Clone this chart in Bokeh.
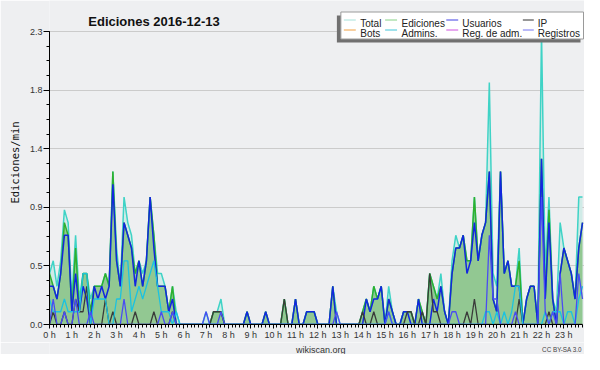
import math
from bokeh.plotting import figure
from bokeh.layouts import column
from bokeh.models import Range1d, FixedTicker, ColumnDataSource, PrintfTickFormatter, Title
from bokeh.core.properties import value
from bokeh.embed import file_html
from bokeh.resources import INLINE

# ---- data: 10-minute bins (144 per day), edits per minute ----
hour_labels = [f"{h} h" for h in range(24)]
series_names = ["Total", "Ediciones", "Usuarios", "IP", "Bots", "Admins.", "Reg. de adm.", "Registros"]

total = [0.4,0.5,0.3,0.5,0.9,0.8,0.2,0.7,0.2,0.4,0.4,0.2,
         0.3,0.3,0.3,0.4,0.3,1.2,0.6,0.3,1.0,0.8,0.7,0.4,
         0.5,0.4,0.5,1.0,0.7,0.4,0.4,0.3,0.1,0.3,0.1,0.0,
         0,0,0,0,0,0,0.1,0,0.1,0.1,0.2,0,
         0,0,0,0,0,0.1,0,0,0,0,0.1,0,
         0,0,0,0.2,0,0,0.2,0,0,0.1,0.1,0.1,
         0,0,0,0,0.3,0.1,0,0,0,0,0,0,
         0.1,0.2,0.1,0.3,0.2,0.3,0,0.3,0.1,0,0,0.1,
         0.1,0.1,0,0.2,0.1,0,0.4,0.3,0.2,0.4,0.1,0,
         0.5,0.7,0.6,0.7,0.5,0.5,1.0,0.5,0.7,0.8,1.9,0.4,
         0.3,1.2,0.4,0.5,0.3,0.3,0.6,0,0.2,0.3,0.3,0,
         2.3,0.4,1.0,0.2,0.1,0.8,0.6,0.5,0.4,0.2,1.0,1.0]

ediciones = [0.4,0.3,0.2,0.4,0.8,0.7,0.1,0.6,0.1,0.4,0.4,0.1,
             0.3,0.3,0.3,0.4,0.3,1.2,0.5,0.3,0.8,0.7,0.6,0.4,
             0.5,0.3,0.5,1.0,0.7,0.3,0.3,0.3,0.1,0.3,0.0,0.0,
             0,0,0,0,0,0,0,0,0.1,0.1,0.1,0,
             0,0,0,0,0,0.1,0,0,0,0,0.1,0,
             0,0,0,0.2,0,0,0.2,0,0,0.1,0.1,0.1,
             0,0,0,0,0.3,0,0,0,0,0,0,0,
             0.1,0.2,0.1,0.3,0.2,0.3,0,0.2,0.1,0,0,0.1,
             0.1,0.1,0,0.2,0.1,0,0.4,0.3,0.2,0.3,0.1,0,
             0.4,0.6,0.6,0.7,0.5,0.5,1.0,0.5,0.7,0.8,1.2,0.2,
             0.1,1.2,0.4,0.5,0.3,0.3,0.5,0,0.2,0.3,0.3,0,
             1.3,0.2,0.9,0.2,0,0.4,0.6,0.5,0.4,0.2,0.6,0.8]

usuarios = [0.3,0.3,0.2,0.4,0.7,0.7,0.1,0.4,0.1,0.3,0.2,0.0,
            0.3,0.2,0.3,0.2,0.3,1.1,0.5,0.3,0.8,0.7,0.6,0.3,
            0.5,0.3,0.5,1.0,0.6,0.3,0.3,0.3,0.1,0.2,0.0,0.0,
            0,0,0,0,0,0,0,0,0,0,0,0,
            0,0,0,0,0,0.1,0,0,0,0,0.1,0,
            0,0,0,0,0,0,0.2,0,0,0.1,0.1,0.1,
            0,0,0,0,0.3,0,0,0,0,0,0,0,
            0,0.2,0.1,0.2,0.2,0.3,0,0.2,0.1,0,0,0.1,
            0.1,0,0,0.2,0,0,0,0.2,0.1,0.3,0.1,0,
            0.4,0.6,0.6,0.7,0.4,0.5,0.8,0.5,0.7,0.8,1.2,0.2,
            0.1,1.2,0.4,0.5,0.3,0.3,0.3,0,0.2,0.3,0.3,0,
            1.3,0.2,0.8,0.2,0,0.4,0.6,0.5,0.4,0.2,0.6,0.8]

ip = [0,0.1,0,0,0.1,0,0,0.2,0.1,0.1,0.3,0,
      0,0,0,0.2,0,0.1,0,0,0,0,0,0.1,
      0,0,0,0,0.1,0,0,0,0,0.1,0,0,
      0,0,0,0,0,0,0,0,0.1,0.1,0.1,0,
      0,0,0,0,0,0,0,0,0,0,0,0,
      0,0,0,0.2,0,0,0,0,0,0,0,0,
      0,0,0,0,0,0,0,0,0,0,0,0,
      0.1,0,0,0.1,0,0,0,0,0,0,0,0,
      0.1,0.1,0,0,0.1,0,0.4,0.1,0.1,0,0,0,
      0,0,0,0,0.1,0,0.2,0,0,0,0,0,
      0,0,0,0,0,0,0.2,0,0,0,0,0,
      0,0,0.1,0,0,0,0,0,0,0,0,0]

admins = [0.2,0.1,0.1,0.1,0.2,0.1,0.1,0.1,0.1,0.4,0.4,0,
          0.2,0.2,0.2,0.2,0,0,0.2,0.2,0.5,0.5,0.1,0.2,
          0.3,0.2,0.3,0.4,0.5,0.3,0.1,0.1,0.1,0,0.1,0,
          0,0,0,0,0,0,0,0,0,0,0,0,
          0,0,0,0,0,0,0,0,0,0,0,0,
          0,0,0,0,0,0,0,0,0,0,0,0,
          0,0,0,0,0,0,0,0,0,0,0,0,
          0,0,0,0,0,0,0,0.1,0,0,0,0,
          0,0,0,0,0,0,0,0,0,0,0,0,
          0,0,0,0,0,0,0,0,0,0.1,0.1,0,
          0.1,0,0.1,0,0.1,0.3,0.3,0,0,0,0,0,
          0,0.1,0,0.1,0.1,0.1,0,0.1,0.1,0,0.2,0.3]

registros = [0,0.2,0,0,0.1,0,0,0.2,0,0,0,0.1,
             0,0,0,0,0,0,0,0,0.2,0,0,0,
             0,0,0,0,0,0,0.1,0,0,0.1,0,0,
             0,0,0,0,0,0,0.1,0,0,0,0.1,0,
             0,0,0,0,0,0,0,0,0,0,0,0,
             0,0,0,0,0,0,0,0,0,0,0,0,
             0,0,0,0,0,0.1,0,0,0,0,0,0,
             0,0,0,0,0,0,0,0.1,0,0,0,0,
             0,0,0,0,0,0,0,0,0,0,0,0,
             0.1,0.1,0,0,0,0,0,0,0,0,0.7,0.2,
             0.2,0,0,0,0,0.1,0,0,0,0,0,0,
             1.0,0.1,0,0.1,0,0.4,0,0,0,0,0.4,0.2]

y_ticks = [0.0, 0.46, 0.92, 1.38, 1.84, 2.3]
footer_texts = ["wikiscan.org", "CC BY-SA 3.0"]

# ---- layout helpers (pixel geometry, figure coordinates) ----
W, H_MAIN, H_FOOT = 584, 342, 12
X0, X_END = 46.0, 582.0          # x of bin 0 and of bin 143
Y0, Y_TOP = 324.0, 31.0          # y of value 0 and of value 2.3
PX_X = (X_END - X0) / 143.0
PX_Y = (Y0 - Y_TOP) / 2.3
def dx(X): return (X - X0) / PX_X
def dy(Y): return (Y0 - Y) / PX_Y

BG = "#eeeff1"
FONT = "Liberation Sans"

n = len(total)
src = ColumnDataSource(dict(x=list(range(n)), total=total, ediciones=ediciones,
                            usuarios=usuarios, ip=ip, admins=admins, registros=registros))

fig = figure(width=W, height=H_MAIN, output_backend="svg", toolbar_location=None,
             title=None, x_range=Range1d(0, dx(W)), y_range=Range1d(0, dy(0)),
             min_border_left=int(X0), min_border_right=0, min_border_top=0,
             min_border_bottom=int(H_MAIN - Y0),
             background_fill_color=BG, border_fill_color=BG)
fig.margin = 0
fig.outline_line_color = None
fig.xgrid.visible = False
fig.ygrid.grid_line_color = "#cbcbcb"

# areas
fig.varea(x="x", y1=0, y2="total", source=src, fill_color="#d0ebe7", fill_alpha=1.0)
fig.varea(x="x", y1=0, y2="ediciones", source=src, fill_color="#92c892", fill_alpha=1.0)
# lines
fig.line(x="x", y="total", source=src, line_color="#3fd3c6", line_width=1.5)
fig.line(x="x", y="ediciones", source=src, line_color="#2eb02e", line_width=1.5)
fig.line(x="x", y="usuarios", source=src, line_color="#1226e0", line_width=1.5)
fig.line(x="x", y="ip", source=src, line_color="#3a3a3a", line_width=1.3)
fig.line(x="x", y="admins", source=src, line_color="#1cc2e0", line_width=1.3)
fig.line(x="x", y="registros", source=src, line_color="#4a4cf2", line_width=1.3)

# axes
fig.xaxis.ticker = FixedTicker(ticks=list(range(0, 144, 6)), minor_ticks=list(range(0, 144)))
fig.xaxis.major_label_overrides = {6 * h: hour_labels[h] for h in range(24)}
fig.xaxis.bounds = (0, 143)
y_minor = [round(k * 0.115, 4) for k in range(21)]
fig.yaxis.ticker = FixedTicker(ticks=y_ticks, minor_ticks=y_minor)
fig.yaxis.formatter = PrintfTickFormatter(format="%.1f")
fig.yaxis.bounds = (0, 2.3)
for ax in (fig.xaxis, fig.yaxis):
    ax.axis_line_color = "black"
    ax.major_tick_line_color = "black"
    ax.minor_tick_line_color = "black"
    ax.major_tick_in = 0
    ax.minor_tick_in = 0
    ax.major_label_text_font = FONT
    ax.major_label_text_font_size = "9px"
    ax.major_label_text_color = "#333333"
fig.xaxis.major_tick_out = 4
fig.xaxis.minor_tick_out = 3
fig.xaxis.major_label_standoff = 1
fig.yaxis.major_tick_out = 6
fig.yaxis.minor_tick_out = 3
fig.yaxis.major_label_standoff = 1

# y axis title (side title, shifted down to the centre of the 0..2.3 span)
fig.add_layout(Title(text="Ediciones/min", align="center",
                     offset=-(Y_TOP / 2), standoff=12,
                     text_font="DejaVu Sans Mono", text_font_size="10.5px",
                     text_font_style="normal", text_color="#111111"), "left")

# chart title
fig.text(x=[dx(85)], y=[dy(20.7)], text=["Ediciones  2016-12-13"], text_font=value(FONT),
         text_font_size="13px", text_font_style="bold", text_color="#111111",
         text_baseline="alphabetic", text_align="left")

# legend (drawn by hand)
LX = -8  # horizontal shift of the legend block
fig.quad(left=[dx(343 + LX)], right=[dx(588 + LX)], top=[dy(15)], bottom=[dy(42)],
         fill_color="#707070", line_color=None)
fig.quad(left=[dx(347 + LX)], right=[dx(591 + LX)], top=[dy(11.5)], bottom=[dy(38.5)],
         fill_color="white", line_color="#9a9a9a", line_width=1)
leg_colors = ["#a6e2da", "#86d286", "#4040e4", "#303030",
              "#f2a040", "#40c6da", "#d050e0", "#7474f2"]
col_line = [(350, 362), (391.5, 403.5), (453, 465), (530, 541)]
col_text = [366.5, 408, 469, 545]
rows = [(19.5, 23.3), (29.5, 33.3)]
for k, name in enumerate(series_names):
    r, c = divmod(k, 4)
    ly, ty = rows[r]
    fig.line(x=[dx(col_line[c][0] + LX), dx(col_line[c][1] + LX)], y=[dy(ly), dy(ly)],
             line_color=leg_colors[k], line_width=1)
    fig.text(x=[dx(col_text[c] + LX)], y=[dy(ty)], text=[name], text_font=value(FONT),
             text_font_size="10px", text_color="#222222", text_baseline="alphabetic")

# footer strip (separate small figure so the texts are not clipped)
foot = figure(width=W, height=H_FOOT, output_backend="svg", toolbar_location=None,
              title=None, x_range=Range1d(0, W), y_range=Range1d(H_FOOT, 0),
              x_axis_location=None, y_axis_location=None,
              min_border_left=0, min_border_right=0, min_border_top=0, min_border_bottom=0,
              background_fill_color=BG, border_fill_color=BG)
foot.margin = 0
foot.outline_line_color = None
foot.grid.visible = False
foot.text(x=[296], y=[7], text=[footer_texts[0]], text_font=value(FONT),
          text_font_size="9px", text_color="#333333", text_align="center",
          text_baseline="alphabetic")
foot.text(x=[581], y=[7], text=[footer_texts[1]], text_font=value(FONT),
          text_font_size="6.3px", text_color="#444444", text_align="right",
          text_baseline="alphabetic")

p = column(fig, foot, spacing=0)
p.margin = 0
open("out.html", "w").write(file_html(p, INLINE))
